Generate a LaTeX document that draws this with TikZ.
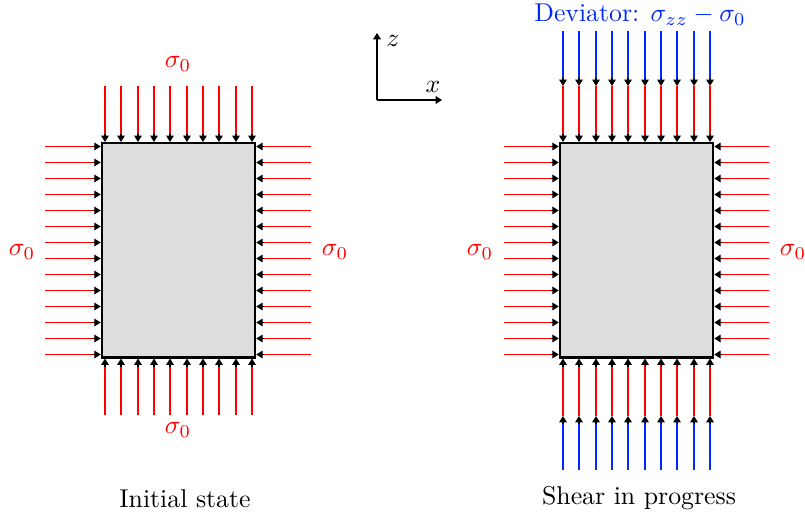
\documentclass[tikz,border=0pt]{standalone}
\usetikzlibrary{arrows.meta,calc}
\definecolor{boxgray}{RGB}{221,221,221}
\definecolor{loadred}{RGB}{255,0,0}
\definecolor{devblue}{RGB}{0,40,255}
\begin{document}
\begin{tikzpicture}[x=0.388pt,y=-0.388pt,
  tip/.style={-{Triangle[length=2.5pt,width=3pt]}},
  shaftline/.style={line width=0.6pt,shorten >=2pt},
  specimen/.style={draw=black,thick,fill=boxgray,inner sep=0pt,
    minimum width=153.5*0.388pt,minimum height=214.5*0.388pt},
  lab/.style={text=loadred},
  axis/.style={semithick,-{Triangle[length=2.5pt,width=3pt]}}]
\fill[white] (0,0) rectangle (805,515);
\useasboundingbox (0,0) rectangle (805,515);

% ---------- specimens ----------
\node[specimen] (bL) at (178.5,250.25) {};
\node[specimen] (bR) at (636.5,250.25) {};

% ---------- anchor points of the loads ----------
\foreach \i in {0,...,9}{
  \pgfmathsetmacro\xl{round(104.85+16.37*\i)}
  \pgfmathsetmacro\xr{round(562.85+16.37*\i)}
  \coordinate (tL\i) at (\xl,0 |- bL.north);
  \coordinate (sL\i) at ($(tL\i)+(0,-56)$);
  \coordinate (uL\i) at (\xl,0 |- bL.south);
  \coordinate (vL\i) at ($(uL\i)+(0,56)$);
  \coordinate (tR\i) at (\xr,0 |- bR.north);
  \coordinate (mR\i) at ($(tR\i)+(0,-56)$);
  \coordinate (sR\i) at ($(mR\i)+(0,-55)$);
  \coordinate (uR\i) at (\xr,0 |- bR.south);
  \coordinate (nR\i) at ($(uR\i)+(0,57.5)$);
  \coordinate (vR\i) at ($(nR\i)+(0,54)$);
}
\foreach \j in {0,...,13}{
  \coordinate (wL\j) at ($(bL.west)+(0,-103.75+16*\j)$);
  \coordinate (aL\j) at ($(wL\j)+(-56,0)$);
  \coordinate (eL\j) at ($(bL.east)+(0,-103.75+16*\j)$);
  \coordinate (cL\j) at ($(eL\j)+(55,0)$);
  \coordinate (wR\j) at ($(bR.west)+(0,-103.75+16*\j)$);
  \coordinate (aR\j) at ($(wR\j)+(-55,0)$);
  \coordinate (eR\j) at ($(bR.east)+(0,-103.75+16*\j)$);
  \coordinate (cR\j) at ($(eR\j)+(55,0)$);
}

% ---------- red shafts ----------
\begin{scope}[draw=loadred]
\foreach \i in {0,...,9}{
  \draw[shaftline] (sL\i) -- (tL\i);
  \draw[shaftline] (vL\i) -- (uL\i);
  \draw[shaftline] (mR\i) -- (tR\i);
  \draw[shaftline] (nR\i) -- (uR\i);
}
\foreach \j in {0,...,13}{
  \draw[shaftline] (aL\j) -- (wL\j);
  \draw[shaftline] (cL\j) -- (eL\j);
  \draw[shaftline] (aR\j) -- (wR\j);
  \draw[shaftline] (cR\j) -- (eR\j);
}
\end{scope}

% ---------- blue shafts (deviator) ----------
\begin{scope}[draw=devblue]
\foreach \i in {0,...,9}{
  \draw[shaftline] (sR\i) -- (mR\i);
  \draw[shaftline] (vR\i) -- (nR\i);
}
\end{scope}

% ---------- black arrow tips ----------
\begin{scope}[draw=black,fill=black]
\foreach \i in {0,...,9}{
  \draw[tip] ($(tL\i)+(0,-8)$) -- (tL\i);
  \draw[tip] ($(uL\i)+(0,8)$) -- (uL\i);
  \draw[tip] ($(tR\i)+(0,-8)$) -- (tR\i);
  \draw[tip] ($(uR\i)+(0,8)$) -- (uR\i);
  \draw[tip] ($(mR\i)+(0,-8)$) -- (mR\i);
  \draw[tip] ($(nR\i)+(0,8)$) -- (nR\i);
}
\foreach \j in {0,...,13}{
  \draw[tip] ($(wL\j)+(-8,0)$) -- (wL\j);
  \draw[tip] ($(eL\j)+(8,0)$) -- (eL\j);
  \draw[tip] ($(wR\j)+(-8,0)$) -- (wR\j);
  \draw[tip] ($(eR\j)+(8,0)$) -- (eR\j);
}
\end{scope}

% ---------- labels ----------
\node[lab] (l1) at (178,64) {$\sigma_0$};
\node[lab] (l2) at (178,430) {$\sigma_0$};
\node[lab] (l3) at (22,252) {$\sigma_0$};
\node[lab] (l4) at (335,252) {$\sigma_0$};
\node[lab] (r3) at (480,252) {$\sigma_0$};
\node[lab] (r4) at (793,252) {$\sigma_0$};
\node[text=devblue,inner sep=0pt] (dev) at (640,15) {Deviator: $\sigma_{zz}-\sigma_0$};
\node[anchor=base] (capL) at (185,507) {Initial state};
\node[anchor=base] (capR) at (639,504) {Shear in progress};

% ---------- axes ----------
\coordinate (O) at (377,100);
\coordinate (Z) at (377,33);
\coordinate (X) at (442,100);
\draw[axis] (O) -- (Z);
\draw[axis] (O) -- (X);
\node (zl) at (393,41) {$z$};
\node (xl) at (433,87) {$x$};
\end{tikzpicture}
\end{document}
